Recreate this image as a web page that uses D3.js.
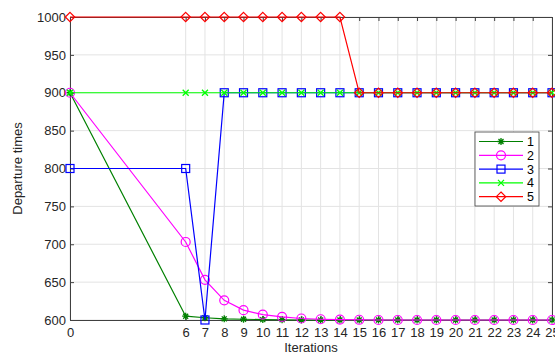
<!DOCTYPE html>
<html>
<head>
<meta charset="utf-8">
<script src="https://cdn.jsdelivr.net/npm/d3@7"></script>
<style>
  body { margin: 0; background: #fff; }
  text { font-family: "Liberation Sans", Arial, sans-serif; }
</style>
</head>
<body>
<div id="chart"></div>
<script>
// iteration numbers on the x axis
var iterations = [0, 6, 7, 8, 9, 10, 11, 12, 13, 14, 15, 16, 17, 18, 19, 20, 21, 22, 23, 24, 25];
var yTicks = [600, 650, 700, 750, 800, 850, 900, 950, 1000];
var seriesNames = ["1", "2", "3", "4", "5"];

var s1 = [900, 605, 603, 601.5, 601, 600.5, 600.3, 600, 600, 600, 600, 600, 600, 600, 600, 600, 600, 600, 600, 600, 600];
var s2 = [900, 703, 653, 626, 613, 607, 604, 602, 601, 600.5, 600.3, 600, 600, 600, 600, 600, 600, 600, 600, 600, 600];
var s3 = [800, 800, 600, 900, 900, 900, 900, 900, 900, 900, 900, 900, 900, 900, 900, 900, 900, 900, 900, 900, 900];
var s4 = [900, 900, 900, 900, 900, 900, 900, 900, 900, 900, 900, 900, 900, 900, 900, 900, 900, 900, 900, 900, 900];
var s5 = [1000, 1000, 1000, 1000, 1000, 1000, 1000, 1000, 1000, 1000, 900, 900, 900, 900, 900, 900, 900, 900, 900, 900, 900];

var colors = ["#008000", "#ff00ff", "#0000ff", "#00ff00", "#ff0000"];
var markers = ["asterisk", "circle", "square", "cross", "diamond"];
var allSeries = [s1, s2, s3, s4, s5];

var imgWidth = 555, imgHeight = 355;
var margin = {top: 17, right: 3, bottom: 35, left: 70},
    width = imgWidth - margin.left - margin.right,
    height = imgHeight - margin.top - margin.bottom;

var x = d3.scaleLinear().domain([0, 25]).range([0, width]),
    y = d3.scaleLinear().domain([600, 1000]).range([height, 0]);

var svg = d3.select("#chart").append("svg")
    .attr("width", imgWidth)
    .attr("height", imgHeight);
var g = svg.append("g")
    .attr("transform", "translate(" + margin.left + "," + margin.top + ")");

// grid
g.append("g").selectAll("line.gx")
    .data(iterations)
    .enter().append("line")
    .attr("x1", function(d) { return x(d); })
    .attr("x2", function(d) { return x(d); })
    .attr("y1", 0).attr("y2", height)
    .attr("stroke", "#e3e3e3");
g.append("g").selectAll("line.gy")
    .data(yTicks)
    .enter().append("line")
    .attr("y1", function(d) { return y(d); })
    .attr("y2", function(d) { return y(d); })
    .attr("x1", 0).attr("x2", width)
    .attr("stroke", "#e3e3e3");

// axes
function styleAxis(sel) {
  sel.select(".domain").attr("stroke", "#404040");
  sel.selectAll(".tick line").attr("stroke", "#404040");
  sel.selectAll(".tick text").attr("fill", "#262626")
     .style("font-size", "13px");
}
g.append("g")
    .attr("transform", "translate(0," + height + ")")
    .call(d3.axisBottom(x).tickValues(iterations).tickSize(-4).tickPadding(8).tickSizeOuter(0).tickFormat(d3.format("d")))
    .call(styleAxis);
g.append("g")
    .call(d3.axisLeft(y).tickValues(yTicks).tickSize(-4).tickPadding(4).tickSizeOuter(0).tickFormat(d3.format("d")))
    .call(styleAxis);
g.append("g")
    .call(d3.axisTop(x).tickValues(iterations).tickSize(-4).tickFormat("").tickSizeOuter(0))
    .call(styleAxis);
g.append("g")
    .attr("transform", "translate(" + width + ",0)")
    .call(d3.axisRight(y).tickValues(yTicks).tickSize(-4).tickFormat("").tickSizeOuter(0))
    .call(styleAxis);

// marker drawing
function drawMarker(sel, type, color) {
  if (type === "circle") {
    sel.append("circle").attr("r", 4.5).attr("fill", "none").attr("stroke", color).attr("stroke-width", 1.2);
  } else if (type === "square") {
    sel.append("rect").attr("x", -4).attr("y", -4).attr("width", 8).attr("height", 8)
       .attr("fill", "none").attr("stroke", color).attr("stroke-width", 1.2);
  } else if (type === "diamond") {
    sel.append("path").attr("d", "M0,-4.7L4.7,0L0,4.7L-4.7,0Z")
       .attr("fill", "none").attr("stroke", color).attr("stroke-width", 1.2);
  } else if (type === "cross") {
    sel.append("path").attr("d", "M-3,-3L3,3M-3,3L3,-3")
       .attr("fill", "none").attr("stroke", color).attr("stroke-width", 1.3);
  } else {
    sel.append("path").attr("d", "M-3.5,0L3.5,0M0,-3.5L0,3.5M-2.5,-2.5L2.5,2.5M-2.5,2.5L2.5,-2.5")
       .attr("fill", "none").attr("stroke", color).attr("stroke-width", 1.3);
  }
}

var line = d3.line()
    .x(function(d) { return x(d[0]); })
    .y(function(d) { return y(d[1]); });

allSeries.forEach(function(vals, i) {
  var pts = iterations.map(function(it, j) { return [it, vals[j]]; });
  var sg = g.append("g");
  sg.append("path")
    .attr("d", line(pts))
    .attr("fill", "none")
    .attr("stroke", colors[i])
    .attr("stroke-width", 1.2);
  sg.selectAll("g.m")
    .data(pts)
    .enter().append("g")
    .attr("transform", function(d) { return "translate(" + x(d[0]) + "," + y(d[1]) + ")"; })
    .each(function() { drawMarker(d3.select(this), markers[i], colors[i]); });
});

// legend
var lg = svg.append("g").attr("transform", "translate(475,132)");
lg.append("rect")
    .attr("width", 64).attr("height", 74)
    .attr("fill", "#fff").attr("stroke", "#404040").attr("stroke-width", 0.8);
seriesNames.forEach(function(name, i) {
  var row = lg.append("g").attr("transform", "translate(0," + (9.5 + i * 13.8) + ")");
  row.append("line").attr("x1", 4).attr("x2", 48)
     .attr("stroke", colors[i]).attr("stroke-width", 1.2);
  var m = row.append("g").attr("transform", "translate(26,0)");
  drawMarker(m, markers[i], colors[i]);
  row.append("text").attr("x", 52).attr("y", 4.5)
     .style("font-size", "12.5px").attr("fill", "#000").text(name);
});

// axis labels
svg.append("text")
    .attr("x", margin.left + width / 2)
    .attr("y", 352)
    .attr("text-anchor", "middle")
    .style("font-size", "13px")
    .attr("fill", "#262626")
    .text("Iterations");
svg.append("text")
    .attr("transform", "translate(22," + (margin.top + height / 2) + ") rotate(-90)")
    .attr("text-anchor", "middle")
    .style("font-size", "13px")
    .attr("fill", "#262626")
    .text("Departure times");
</script>
</body>
</html>
